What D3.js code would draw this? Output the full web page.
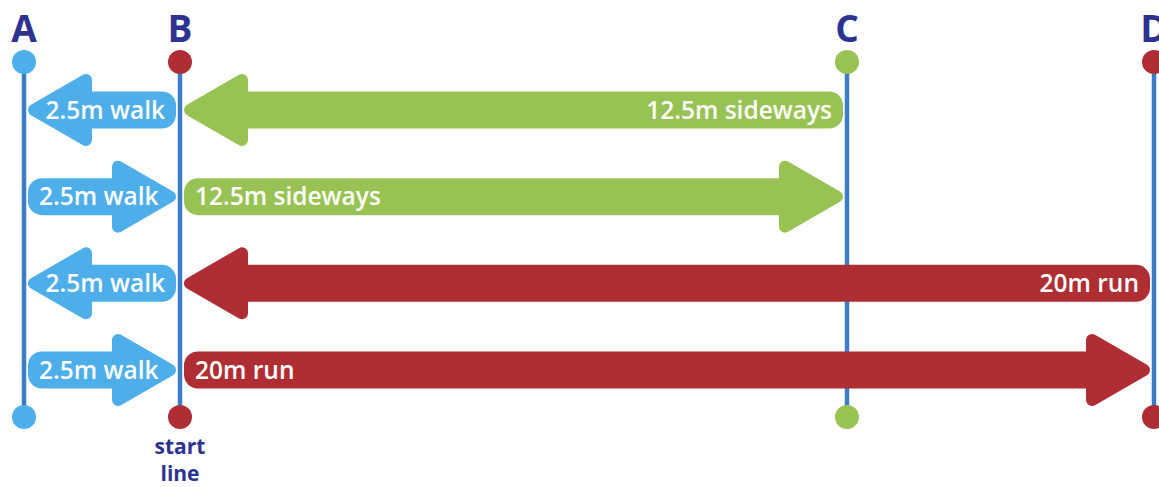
<!DOCTYPE html>
<html>
<head>
<meta charset="utf-8">
<script src="https://cdn.jsdelivr.net/npm/d3@7"></script>
<style>
  html, body { margin: 0; padding: 0; background: #fff; }
  svg { display: block; }
</style>
</head>
<body>
<div id="chart"></div>
<script>
// markers on the floor and their distance from the start line (m)
var markers = ["A", "B", "C", "D"];
var distances = [-2.5, 0, 12.5, 20];

// rows of the drill, top to bottom
var rows = [1, 2, 3, 4];

// each leg: which row, from where to where (m), and its label
var legRows   = [1, 1, 2, 2, 3, 3, 4, 4];
var legStart  = [0, 12.5, -2.5, 0, 0, 20, -2.5, 0];
var legEnd    = [-2.5, 0, 0, 12.5, -2.5, 0, 0, 20];
var legLabels = ["2.5m walk", "12.5m sideways", "2.5m walk", "12.5m sideways",
                 "2.5m walk", "20m run", "2.5m walk", "20m run"];
var legKinds  = ["walk", "sideways", "walk", "sideways", "walk", "run", "walk", "run"];

var caption = ["start", "line"];

var width = 1159, height = 487;
var navy = "#2c3290";
var lineBlue = "#3b7dc6";
var kindColor = {walk: "#4daee9", sideways: "#98c354", run: "#ae2e34"};
var dotColor = {A: "#4daee9", B: "#ae2e34", C: "#98c354", D: "#ae2e34"};

var top_y = 62, bottom_y = 417;
var shaft = 37, head_half = 36, head_len = 64, pad = 4, join = 12;

var svg = d3.select("#chart").append("svg")
    .attr("width", width)
    .attr("height", height);

// the spacing in the picture is not to scale, so use a piecewise scale
var x = d3.scaleLinear()
    .domain(distances)
    .range([24, 180, 847, 1154]);

var y = d3.scalePoint()
    .domain(rows)
    .range([110, 370]);

// vertical marker lines
svg.selectAll(".mline")
    .data(markers)
    .enter()
    .append("line")
    .attr("x1", function(d, i) { return x(distances[i]); })
    .attr("x2", function(d, i) { return x(distances[i]); })
    .attr("y1", top_y)
    .attr("y2", bottom_y)
    .attr("stroke", lineBlue)
    .attr("stroke-width", 4.5);

// arrows
var legs = legRows.map(function(r, i) {
    return {row: r, start: legStart[i], end: legEnd[i], label: legLabels[i], kind: legKinds[i]};
});

var g = svg.selectAll(".leg")
    .data(legs)
    .enter()
    .append("g");

g.each(function(d) {
    var sel = d3.select(this);
    var dir = d.end > d.start ? 1 : -1;
    var tail = x(d.start) + dir * pad;
    var tip = x(d.end) - dir * pad;
    var base = tip - dir * head_len;
    var cy = y(d.row);
    var col = kindColor[d.kind];

    var r1 = base + dir * 20;
    sel.append("rect")
        .attr("x", Math.min(tail, r1))
        .attr("y", cy - shaft / 2)
        .attr("width", Math.abs(r1 - tail))
        .attr("height", shaft)
        .attr("rx", 14)
        .attr("fill", col);

    var h = join / 2;
    var pts = [
        [tip - dir * h, cy],
        [base + dir * h, cy - head_half + h],
        [base + dir * h, cy + head_half - h]
    ];
    sel.append("path")
        .attr("d", "M" + pts.join("L") + "Z")
        .attr("fill", col)
        .attr("stroke", col)
        .attr("stroke-width", join)
        .attr("stroke-linejoin", "round");

    sel.append("text")
        .attr("x", tail + dir * 11)
        .attr("y", cy)
        .attr("dy", "0.36em")
        .attr("text-anchor", dir > 0 ? "start" : "end")
        .attr("font-family", "'Open Sans', sans-serif")
        .attr("font-weight", 600)
        .attr("font-size", "24.5px")
        .attr("fill", "#fff")
        .text(d.label);
});

// dots at both ends of each line
[top_y, bottom_y].forEach(function(cy) {
    svg.selectAll(".dot" + cy)
        .data(markers)
        .enter()
        .append("circle")
        .attr("cx", function(d, i) { return x(distances[i]); })
        .attr("cy", cy)
        .attr("r", 12)
        .attr("fill", function(d) { return dotColor[d]; });
});

// marker letters
svg.selectAll(".mlabel")
    .data(markers)
    .enter()
    .append("text")
    .attr("x", function(d, i) { return x(distances[i]); })
    .attr("y", 42)
    .attr("text-anchor", "middle")
    .attr("font-family", "'Open Sans', sans-serif")
    .attr("font-weight", 700)
    .attr("font-size", "37px")
    .attr("fill", navy)
    .text(function(d) { return d; });

// start line caption, one text per line
svg.selectAll(".caption")
    .data(caption)
    .enter()
    .append("text")
    .attr("x", x(0))
    .attr("y", function(d, i) { return 454 + i * 27; })
    .attr("text-anchor", "middle")
    .attr("font-family", "'Open Sans', sans-serif")
    .attr("font-weight", 700)
    .attr("font-size", "21px")
    .attr("fill", navy)
    .text(function(d) { return d; });
</script>
</body>
</html>
